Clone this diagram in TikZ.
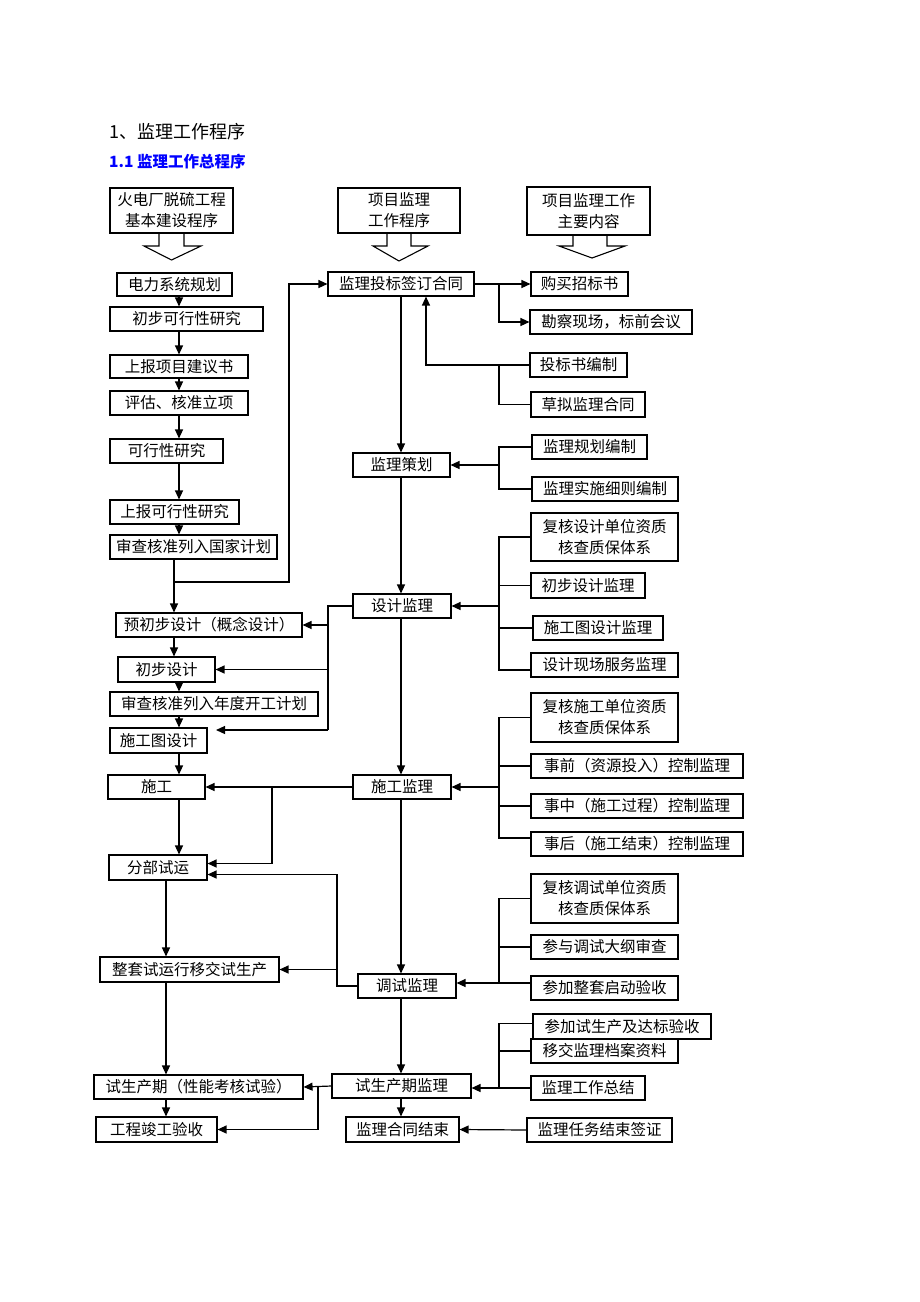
\documentclass[tikz,border=0pt]{standalone}
\usepackage{fontspec}
\setmainfont{Noto Sans CJK SC}
\usetikzlibrary{arrows.meta}
\tikzset{
  bx/.style={draw, line width=1.1pt, inner sep=0pt, font=\fontsize{15.5}{21}\selectfont, align=center},
  ln/.style={line width=1.2pt},
  hol/.style={line width=1.1pt},
  arr/.style={line width=1.2pt, -{Triangle[length=9pt,width=8pt]}},
}
\newcommand\mybox[6]{%
 \pgfmathsetmacro\bxw{#4-#2}\pgfmathsetmacro\bxh{#5-#3}%
 \node[bx,minimum width=\bxw pt,minimum height=\bxh pt] (#1) at ({(#2+#4)/2},{(#3+#5)/2}) {#6};}
\begin{document}
\begin{tikzpicture}[x=1pt,y=-1pt]
\fill[white] (0,0) rectangle (920,1302);
\useasboundingbox (0,0) rectangle (920,1302);
% titles
\node[anchor=west, inner sep=0pt, font=\fontsize{18}{20}\selectfont] (t1) at (109,132) {1、监理工作程序};
\node[anchor=west, inner sep=0pt, text={rgb,255:red,0;green,0;blue,255}, font=\fontsize{15.5}{18}\selectfont\bfseries] (t2) at (109,162) {1.1 监理工作总程序};
% headers
\mybox{H1}{110}{188}{233}{233}{火电厂脱硫工程\\基本建设程序}
\mybox{H2}{338}{188}{460}{233}{项目监理\\工作程序}
\mybox{H3}{527}{187}{650}{235}{项目监理工作\\主要内容}
\draw[hol] (H1.south -| 159,0) -- (159,246) -- (144,246) -- (171.5,260) -- (201,246) -- (184,246) -- (H1.south -| 184,0);
\draw[hol] (H2.south -| 387,0) -- (387,246) -- (373,246) -- (399,261) -- (428,246) -- (411,246) -- (H2.south -| 411,0);
\draw[hol] (H3.south -| 573,0) -- (573,246) -- (559,246) -- (592,258) -- (625,246) -- (607,246) -- (H3.south -| 607,0);
% left column
\mybox{L1}{117}{273}{232}{296}{电力系统规划}
\mybox{L2}{110}{307}{263}{331}{初步可行性研究}
\mybox{L3}{110}{355}{248}{378}{上报项目建议书}
\mybox{L4}{110}{391}{248}{415}{评估、核准立项}
\mybox{L5}{110}{439}{223}{463}{可行性研究}
\mybox{L6}{110}{500}{239}{524}{上报可行性研究}
\mybox{L7}{110}{535}{277}{559}{审查核准列入国家计划}
\mybox{L8}{116}{613}{302}{637}{预初步设计（概念设计）}
\mybox{L9}{118}{657}{215}{682}{初步设计}
\mybox{L10}{110}{692}{318}{716}{审查核准列入年度开工计划}
\mybox{L11}{110}{728}{207}{753}{施工图设计}
\mybox{L12}{108}{775}{205}{799}{施工}
\mybox{L13}{109}{855}{207}{880}{分部试运}
\mybox{L14}{100}{957}{279}{982}{整套试运行移交试生产}
\mybox{L15}{94}{1075}{303}{1099}{试生产期（性能考核试验）}
\mybox{L16}{96}{1117}{217}{1142}{工程竣工验收}
% middle column
\mybox{M1}{328}{272}{474}{296}{监理投标签订合同}
\mybox{M2}{353}{453}{450}{477}{监理策划}
\mybox{M3}{353}{594}{451}{618}{设计监理}
\mybox{M4}{353}{775}{451}{799}{施工监理}
\mybox{M5}{358}{974}{456}{998}{调试监理}
\mybox{M6}{332}{1074}{471}{1098}{试生产期监理}
\mybox{M7}{346}{1117}{459}{1142}{监理合同结束}
% right column
\mybox{R1}{531}{272}{628}{296}{购买招标书}
\mybox{R2}{530}{310}{692}{334}{勘察现场，标前会议}
\mybox{R3}{530}{353}{627}{377}{投标书编制}
\mybox{R4}{531}{392}{645}{417}{草拟监理合同}
\mybox{R5}{532}{435}{647}{459}{监理规划编制}
\mybox{R6}{532}{477}{678}{501}{监理实施细则编制}
\mybox{R7}{531}{513}{678}{561}{复核设计单位资质\\核查质保体系}
\mybox{R8}{531}{573}{645}{598}{初步设计监理}
\mybox{R9}{533}{616}{663}{640}{施工图设计监理}
\mybox{R10}{531}{653}{678}{677}{设计现场服务监理}
\mybox{R11}{531}{693}{678}{742}{复核施工单位资质\\核查质保体系}
\mybox{R12}{531}{754}{743}{778}{事前（资源投入）控制监理}
\mybox{R13}{531}{794}{743}{818}{事中（施工过程）控制监理}
\mybox{R14}{531}{832}{743}{856}{事后（施工结束）控制监理}
\mybox{R15}{531}{874}{678}{923}{复核调试单位资质\\核查质保体系}
\mybox{R16}{531}{935}{678}{959}{参与调试大纲审查}
\mybox{R17}{531}{976}{678}{1000}{参加整套启动验收}
\mybox{R18}{533}{1014}{711}{1039}{参加试生产及达标验收}
\mybox{R19}{531}{1039}{678}{1063}{移交监理档案资料}
\mybox{R20}{531}{1076}{645}{1100}{监理工作总结}
\mybox{R21}{527}{1118}{672}{1142}{监理任务结束签证}
% column coordinates
\coordinate (xa) at (179,0);
\coordinate (xb) at (174,0);
\coordinate (xc) at (166,0);
\coordinate (xd) at (289,0);
\coordinate (xe) at (328,0);
\coordinate (xf) at (272,0);
\coordinate (xg) at (337,0);
\coordinate (xh) at (318,0);
\coordinate (xi) at (426,0);
\coordinate (xm) at (401,0);
\coordinate (xr) at (499,0);
% left column arrows
\foreach \a/\b in {L1/L2,L2/L3,L3/L4,L4/L5,L5/L6,L6/L7,L9/L10,L10/L11,L11/L12,L12/L13}
  \draw[arr] (\a.south -| xa) -- (\b.north -| xa);
\draw[arr] (L7.south -| xb) -- (L8.north -| xb);
\draw[arr] (L8.south -| xb) -- (L9.north -| xb);
\foreach \a/\b in {L13/L14,L14/L15,L15/L16}
  \draw[arr] (\a.south -| xc) -- (\b.north -| xc);
\coordinate (j1) at (174,582);
\draw[arr] (j1) -- (j1 -| xd) |- (M1.west);
% middle column arrows
\foreach \a/\b in {M1/M2,M2/M3,M3/M4,M4/M5,M5/M6,M6/M7}
  \draw[arr] (\a.south -| xm) -- (\b.north -| xm);
% design supervision to left
\coordinate (c11) at (216,730);
\draw[ln] (M3.west) -- (M3.west -| xe) -- (xe |- c11);
\draw[arr] (L8.east -| xe) -- (L8.east);
\draw[arr] (L9.east -| xe) -- (L9.east);
\draw[arr] (xe |- c11) -- (c11);
% construction supervision to left
\draw[arr] (M4.west) -- (L12.east);
\draw[arr] (M4.west -| xf) |- ([yshift=4pt]L13.east);
% commissioning supervision to left
\draw[arr] (M5.west) -- (M5.west -| xg) |- ([yshift=-7pt]L13.east);
\draw[arr] (L14.east -| xg) -- (L14.east);
% trial production supervision to left
\draw[arr] (M6.west) -- (L15.east);
\draw[arr] (M6.west -| xh) |- (L16.east);
% M1 group
\draw[arr] (M1.east) -- (R1.west);
\draw[arr] (M1.east -| xr) |- (R2.west);
\draw[arr] (R3.west) -| (M1.south -| xi);
\draw[ln] (R3.west -| xr) |- (R4.west);
% M2 group
\draw[ln] (R5.west) -- (R5.west -| xr) -- (R6.west -| xr) -- (R6.west);
\draw[arr] (M2.east -| xr) -- (M2.east);
% M3 group
\coordinate (t10) at ([yshift=-5pt]R10.west);
\draw[ln] (R7.west) -- (R7.west -| xr) -- (t10 -| xr) -- (t10);
\draw[ln] (R8.west) -- (R8.west -| xr);
\draw[ln] (R9.west) -- (R9.west -| xr);
\draw[arr] (M3.east -| xr) -- (M3.east);
% M4 group
\coordinate (t14) at ([yshift=6pt]R14.west);
\draw[ln] (R11.west) -- (R11.west -| xr) -- (t14 -| xr) -- (t14);
\draw[ln] (R12.west) -- (R12.west -| xr);
\draw[ln] (R13.west) -- (R13.west -| xr);
\draw[arr] (M4.east -| xr) -- (M4.east);
% M5 group
\coordinate (t17) at ([yshift=5pt]R17.west);
\draw[ln] (R15.west) -- (R15.west -| xr) -- (t17 -| xr) -- (t17);
\draw[ln] (R16.west) -- (R16.west -| xr);
\draw[arr] (t17 -| xr) -- (t17 -| M5.east);
% M6 group
\coordinate (t18) at ([yshift=3pt]R18.west);
\draw[ln] (t18) -- (t18 -| xr) -- (R20.west -| xr) -- (R20.west);
\draw[ln] (R19.west) -- (R19.west -| xr);
\draw[arr] (R20.west -| xr) -- (R20.west -| M6.east);
% M7
\draw[arr] (R21.west) -- (M7.east);
\end{tikzpicture}
\end{document}
